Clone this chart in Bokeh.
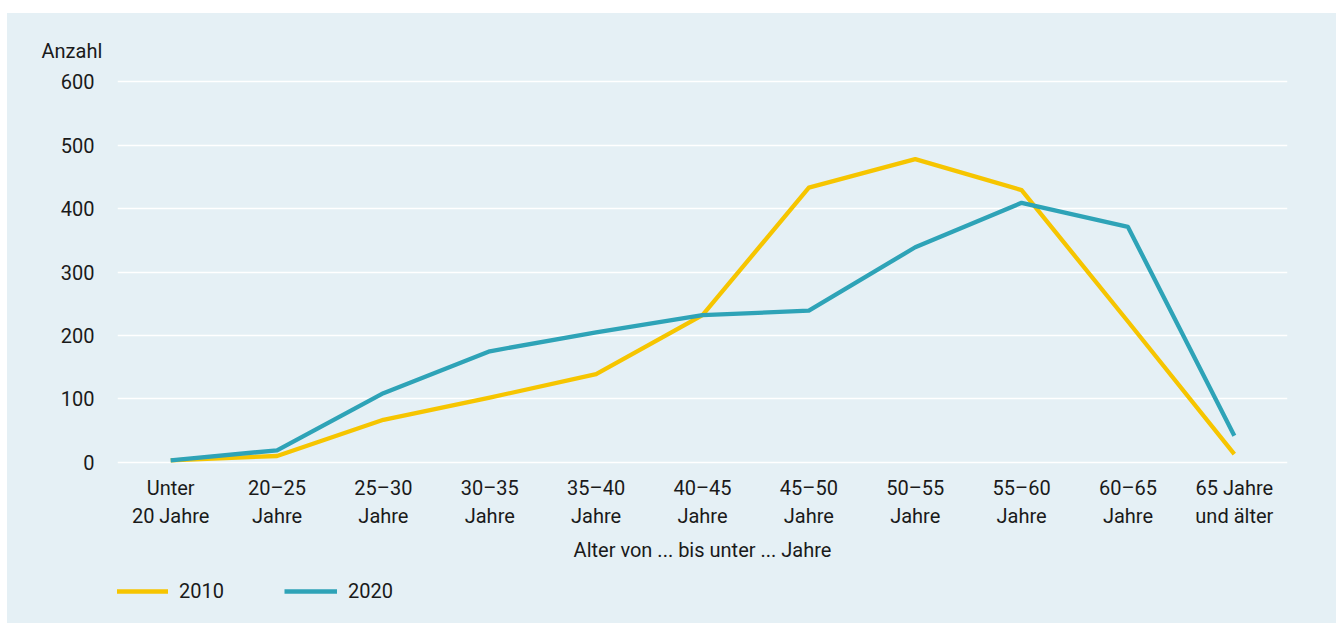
from bokeh.plotting import figure
from bokeh.models import Range1d, Legend, LegendItem, Title, FixedTicker, ColumnDataSource, Spacer
from bokeh.layouts import column, row
from bokeh.embed import file_html
from bokeh.resources import INLINE

categories = ["Unter\n20 Jahre", "20–25\nJahre", "25–30\nJahre", "30–35\nJahre", "35–40\nJahre",
              "40–45\nJahre", "45–50\nJahre", "50–55\nJahre", "55–60\nJahre", "60–65\nJahre",
              "65 Jahre\nund älter"]
values_2010 = [3, 10, 67, 102, 139, 232, 433, 478, 429, 222, 13]
values_2020 = [3, 19, 109, 175, 205, 232, 239, 339, 409, 371, 42]
y_ticks = [0, 100, 200, 300, 400, 500, 600]
series_names = ["2010", "2020"]

BG = "#e5f0f5"
TXT = "#1a1a1a"
FONT = "Roboto"
YELLOW = "#f6c500"
TEAL = "#2ea3b7"

p = figure(width=1329, height=552, x_range=categories, y_range=Range1d(-5, 605),
           output_backend="svg", toolbar_location=None,
           min_border_left=110, min_border_right=49, min_border_top=65, min_border_bottom=97)
p.background_fill_color = BG
p.border_fill_color = BG
p.outline_line_color = None

src = ColumnDataSource(dict(x=categories, y1=values_2010, y2=values_2020))
r1 = p.line("x", "y1", source=src, line_color=YELLOW, line_width=4.3, line_join="round")
r2 = p.line("x", "y2", source=src, line_color=TEAL, line_width=4.3, line_join="round")

p.xgrid.grid_line_color = None
p.ygrid.grid_line_color = "white"
p.ygrid.grid_line_width = 1.5
p.yaxis.ticker = FixedTicker(ticks=y_ticks)

for ax in (p.xaxis[0], p.yaxis[0]):
    ax.axis_line_color = None
    ax.major_tick_line_color = None
    ax.minor_tick_line_color = None
    ax.major_label_text_font = FONT
    ax.major_label_text_font_size = "20px"
    ax.major_label_text_color = TXT

p.yaxis.major_label_standoff = 17
p.xaxis.major_label_standoff = 4
p.xaxis.axis_label = "Alter von ... bis unter ... Jahre"
p.xaxis.axis_label_text_font = FONT
p.xaxis.axis_label_text_font_size = "20px"
p.xaxis.axis_label_text_font_style = "normal"
p.xaxis.axis_label_text_color = TXT
p.xaxis.axis_label_standoff = 7

t = Title(text="Anzahl", align="left", offset=-76, standoff=31, text_font=FONT,
          text_font_size="20px", text_font_style="normal", text_color=TXT)
p.add_layout(t, "above")

# legend strip below the chart
pl = figure(width=1329, height=58, x_range=Range1d(0, 1), y_range=Range1d(0, 1),
            x_axis_type=None, y_axis_type=None, output_backend="svg", toolbar_location=None,
            min_border=0)
pl.background_fill_color = BG
pl.border_fill_color = BG
pl.outline_line_color = None
pl.xgrid.grid_line_color = None
pl.ygrid.grid_line_color = None
l1 = pl.line(x=[0, 1], y=[-1, -1], line_color=YELLOW, line_width=4.3)
l2 = pl.line(x=[0, 1], y=[-1, -1], line_color=TEAL, line_width=4.3)

legend = Legend(items=[LegendItem(label=series_names[0], renderers=[l1]),
                       LegendItem(label=series_names[1], renderers=[l2])],
                location=(-2, 20), orientation="horizontal",
                background_fill_alpha=0, border_line_color=None,
                padding=0, margin=0, spacing=60, glyph_width=53, glyph_height=20,
                label_standoff=11, label_text_font=FONT, label_text_font_size="20px",
                label_text_color=TXT)
pl.add_layout(legend, "center")

panel = column(p, pl, spacing=0, styles={"background-color": BG})
layout = column(Spacer(height=13), row(Spacer(width=7), panel), spacing=0)
open("out.html", "w").write(file_html(layout, INLINE))
